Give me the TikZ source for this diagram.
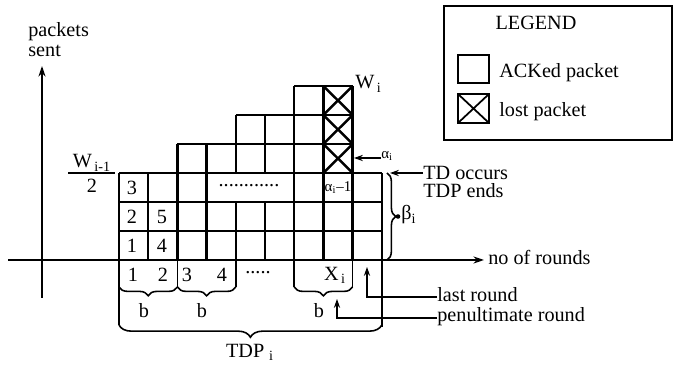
\documentclass[tikz,border=0pt]{standalone}
\usepackage{fontspec}
\setmainfont{Liberation Serif}
\usetikzlibrary{arrows.meta,decorations.pathreplacing}

\begin{document}
\begin{tikzpicture}[
    x=0.02cm, y=-0.02cm,
    grid/.style={line width=1.4pt},
    axis/.style={line width=1.3pt, -{Stealth[length=6pt,width=4pt]}},
    pointer/.style={line width=1.1pt, -{Stealth[length=5pt,width=3.5pt]}},
    lbl/.style={font=\fontsize{11.5}{12}\selectfont, inner sep=0pt},
    small/.style={font=\fontsize{8.5}{9}\selectfont, inner sep=0pt},
    curly/.style={decorate, decoration={brace, amplitude=5pt, mirror}, line width=0.9pt}
  ]
  \useasboundingbox (0,0) rectangle (674,374);

  % Axes
  \coordinate (ybot) at (42,298);
  \coordinate (ytop) at (42,66);
  \coordinate (xleft) at (8,260);
  \coordinate (xright) at (484,260);
  \draw[axis] (ybot) -- (ytop);
  \draw[axis] (xleft) -- (xright);
  \node[lbl, anchor=base west] (ylab1) at (28,37) {packets};
  \node[lbl, anchor=base west] (ylab2) at (28,57) {sent};
  \node[lbl, anchor=base west] (xlab) at (488,265) {no of rounds};

  % Grid of ACKed packets
  \draw[grid] (119,231) -- (382,231);
  \draw[grid] (119,202) -- (382,202);
  \draw[grid] (119,173) -- (382,173);
  \draw[grid] (177,144) -- (352.6,144);
  \draw[grid] (235.8,115) -- (352.6,115);
  \draw[grid] (294.2,86) -- (352.6,86);
  \draw[grid] (119,260) -- (119,173);
  \draw[grid] (148.2,260) -- (148.2,173);
  \draw[grid] (177.4,260) -- (177.4,144);
  \draw[grid] (206.6,260) -- (206.6,144);
  \draw[grid] (235.8,260) -- (235.8,202) (235.8,173) -- (235.8,115);
  \draw[grid] (265,260) -- (265,202) (265,173) -- (265,115);
  \draw[grid] (294.2,260) -- (294.2,86);
  \draw[grid] (323.4,260) -- (323.4,86);
  \draw[grid] (352.6,260) -- (352.6,86);
  \draw[grid] (381.8,260) -- (381.8,173);

  % Lost packets
  \draw[grid] (323.4,173) -- (352.6,144) (323.4,144) -- (352.6,173);
  \draw[grid] (323.4,144) -- (352.6,115) (323.4,115) -- (352.6,144);
  \draw[grid] (323.4,115) -- (352.6,86) (323.4,86) -- (352.6,115);

  % Packet numbers
  \node[lbl] (p1) at (132,246) {1};
  \node[lbl] (p2) at (132,217) {2};
  \node[lbl] (p3) at (132,188) {3};
  \node[lbl] (p4) at (162,246) {4};
  \node[lbl] (p5) at (162,217) {5};
  \node[lbl] (pdots) at (249,186) {............};
  \node[small] (alast) at (338,188) {α\textsubscript{i}--1};

  % Window labels
  \node[lbl, anchor=base] (wnum) at (92,168) {W\textsubscript{\,i-1}};
  \node[lbl, anchor=base] (wden) at (92,193) {2};
  \draw[line width=0.9pt] (68,173) -- (115,173);
  \node[lbl, anchor=base west] (wi) at (355,89) {W\textsubscript{\,i}};
  \node[small, anchor=west] (alpha) at (381,156) {α\textsubscript{i}};
  \coordinate (alphatip) at (354,158);
  \draw[pointer] (alpha.west |- alphatip) -- (alphatip);

  % TD event
  \node[lbl, anchor=base west] (tdocc) at (423,180) {TD occurs};
  \node[lbl, anchor=base west] (tdpend) at (423,198) {TDP ends};
  \coordinate (tdtip) at (390,173);
  \draw[pointer] (tdocc.west |- tdtip) -- (tdtip);
  \draw[curly, decoration={mirror=false}] (387,173) -- (387,260);
  \fill (398,216.5) circle (1.3pt);
  \node[lbl, anchor=west] (beta) at (401,215) {β\textsubscript{i}};

  % Rounds below the axis
  \node[lbl] (r1) at (133,275) {1};
  \node[lbl] (r2) at (163,275) {2};
  \node[lbl] (r3) at (187,275) {3};
  \node[lbl] (r4) at (222,275) {4};
  \node[lbl] (rdots) at (258,273) {.....};
  \node[lbl] (rx) at (335,275) {X\textsubscript{\,i}};
  \draw[grid] (119,260) -- (119,325);
  \draw[grid] (381.8,260) -- (381.8,327);
  \draw[line width=0.9pt] (177.4,260) -- (177.4,287) (235.8,260) -- (235.8,287);
  \draw[line width=0.9pt] (294.2,260) -- (294.2,287) (352.6,260) -- (352.6,287);
  \draw[curly] (119,287) -- (177.4,287);
  \draw[curly] (177.4,287) -- (235.8,287);
  \draw[curly] (294.2,287) -- (352.6,287);
  \node[lbl] (b1) at (144,311) {b};
  \node[lbl] (b2) at (202,311) {b};
  \node[lbl] (b3) at (319,311) {b};
  \draw[curly, decoration={amplitude=7pt}] (119,325) -- (381.8,325);
  \node[lbl] (tdp) at (250,352) {TDP\textsubscript{\,\,i}};

  % Round pointers
  \node[lbl, anchor=base west] (last) at (437,302) {last round};
  \node[lbl, anchor=base west] (penult) at (437,322) {penultimate round};
  \coordinate (lasttip) at (367,267);
  \coordinate (penulttip) at (337,299);
  \draw[pointer] (last.west |- 0,297) -| (lasttip);
  \draw[pointer] (penult.west |- 0,318) -| (penulttip);

  % Legend
  \draw[line width=1pt] (444,6) rectangle (672,140);
  \node[lbl, anchor=base] (legend) at (536,30) {LEGEND};
  \draw[line width=1pt] (458,55) rectangle (489,83);
  \draw[line width=1pt] (458,94) rectangle (489,123) (458,94) -- (489,123) (458,123) -- (489,94);
  \node[lbl, anchor=base west] (acked) at (499,78) {ACKed packet};
  \node[lbl, anchor=base west] (lost) at (499,117) {lost packet};
\end{tikzpicture}
\end{document}
